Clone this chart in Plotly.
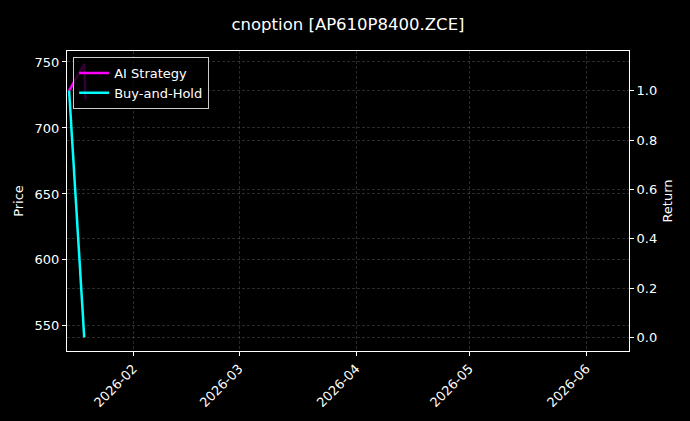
import plotly.graph_objects as go

# data
dates = ["2026-01-15", "2026-01-19"]
price = [730.3, 540.9]
bh_return = [1.0, 0.0]

ai_dates = ["2026-01-15", "2026-01-19", "2026-01-19 08:00"]
ai_return = [1.0, 1.108, 0.965]

price_ticks = [550, 600, 650, 700, 750]
return_ticks = [0.0, 0.2, 0.4, 0.6, 0.8, 1.0]

FONT = "DejaVu Sans"
GRID = "rgba(140,140,140,0.3)"
DASH = "3px,2px"

fig = go.Figure()

# price line sits under the return curves
fig.add_trace(go.Scatter(
    x=dates, y=price, mode="lines", yaxis="y",
    line=dict(color="rgba(120,120,120,0.5)", width=1),
    showlegend=False, name="Price",
))
fig.add_trace(go.Scatter(
    x=ai_dates, y=ai_return, mode="lines", yaxis="y2",
    line=dict(color="#ff00ff", width=2.5), name="AI Strategy",
))
fig.add_trace(go.Scatter(
    x=dates, y=bh_return, mode="lines", yaxis="y2",
    line=dict(color="#00ffff", width=2.5), name="Buy-and-Hold",
))

fig.update_layout(
    width=690,
    height=421,
    margin=dict(l=67, r=61, t=51, b=70),
    paper_bgcolor="#000000",
    plot_bgcolor="#000000",
    font=dict(family=FONT, color="white", size=13),
    title=dict(
        text="cnoption [AP610P8400.ZCE]",
        x=0.5, xref="paper", xanchor="center",
        y=1 - 24 / 421, yref="container", yanchor="middle",
        font=dict(size=16.5, color="white"),
    ),
    xaxis=dict(
        type="date",
        range=["2026-01-14 10:30", "2026-06-12 07:00"],
        dtick="M1",
        tick0="2026-02-01",
        tickformat="%Y-%m",
        tickangle=-45,
        ticks="outside", ticklen=4, tickcolor="white",
        showline=True, linecolor="white", linewidth=1, mirror=True,
        showgrid=True, gridcolor=GRID, gridwidth=0.6, griddash=DASH,
        zeroline=False,
        tickfont=dict(size=13),
    ),
    yaxis=dict(
        title=dict(text="Price", standoff=8, font=dict(size=13)),
        range=[531, 758.3],
        tickvals=price_ticks,
        ticks="outside", ticklen=4, tickcolor="white",
        showline=True, linecolor="white", linewidth=1,
        showgrid=True, gridcolor=GRID, gridwidth=0.6, griddash=DASH,
        zeroline=False,
        tickfont=dict(size=13),
    ),
    yaxis2=dict(
        title=dict(text="Return", standoff=6, font=dict(size=13)),
        overlaying="y", side="right",
        range=[-0.055, 1.161],
        tickvals=return_ticks,
        tickformat=".1f",
        ticks="outside", ticklen=4, tickcolor="white",
        showline=True, linecolor="white", linewidth=1,
        showgrid=True, gridcolor=GRID, gridwidth=0.6, griddash=DASH,
        zeroline=False,
        tickfont=dict(size=13),
    ),
    legend=dict(
        x=0.011, y=0.98, xanchor="left", yanchor="top",
        bgcolor="rgba(0,0,0,0.8)",
        bordercolor="#cccccc", borderwidth=1,
        font=dict(size=13, color="white"),
        tracegroupgap=0,
    ),
)

fig.write_html("out.html", config={"displayModeBar": False})

# drop the browser's default page margin so the figure sits at 0,0
with open("out.html", encoding="utf-8") as f:
    html = f.read()
html = html.replace("<head>", "<head><style>body{margin:0;background:#000;}</style>", 1)
with open("out.html", "w", encoding="utf-8") as f:
    f.write(html)
